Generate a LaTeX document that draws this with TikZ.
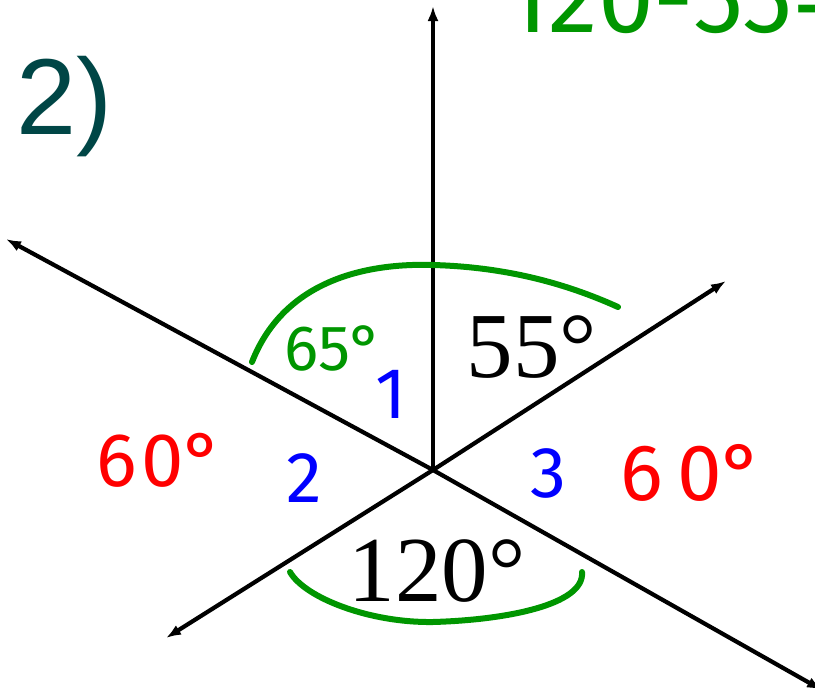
\documentclass[tikz,border=0pt]{standalone}
\usepackage{fontspec}
\setmainfont{Liberation Serif}
\newfontfamily\labelsans{Liberation Sans}
\newfontfamily\handfont{Fira Sans}
\usetikzlibrary{arrows.meta}
\definecolor{penGreen}{RGB}{0,150,0}
\definecolor{penRed}{RGB}{255,0,0}
\definecolor{penBlue}{RGB}{0,0,255}
\definecolor{teal2}{RGB}{0,70,70}
\tikzset{
  ray/.style={line width=4.2pt,-{Latex[length=15pt,width=11pt]}},
  greenarc/.style={penGreen,line width=6pt,line cap=round},
  typed/.style={inner sep=0pt,font=\fontsize{93}{93}\selectfont},
  hand/.style={inner sep=0pt,font=\handfont\fontsize{72}{72}\selectfont},
}
\begin{document}
\begin{tikzpicture}[x=1pt,y=-1pt]
\useasboundingbox (0,0) rectangle (815,688);
\clip (0,0) rectangle (815,688);
% rays
\coordinate (O) at (433,470);
\coordinate (up) at (433,6);
\coordinate (ul) at (6,239);
\coordinate (ur) at (726,281);
\coordinate (ll) at (166,638);
\coordinate (lr) at (822,690);
\draw[ray] (O) -- (up);
\draw[ray] (O) -- (ul);
\draw[ray] (O) -- (ur);
\draw[ray] (O) -- (ll);
\draw[ray] (O) -- (lr);
% green arcs
\coordinate (a1) at (252,362);
\coordinate (a2) at (433,265);
\coordinate (a3) at (618,307);
\draw[greenarc] (a1) .. controls (285,278) and (370,263) .. (a2)
  .. controls (505,267) and (565,283) .. (a3);
\coordinate (b1) at (290,572);
\coordinate (b2) at (433,622);
\coordinate (b3) at (582,572);
\draw[greenarc] (b1) .. controls (305,598) and (370,623) .. (b2)
  .. controls (505,620) and (585,605) .. (b3);
% typed labels
\node[teal2,inner sep=0pt,font=\labelsans\fontsize{108}{108}\selectfont,anchor=base west] (title) at (16,134) {2)};
\node[typed,anchor=base] (t55) at (532,377) {55°};
\node[typed,anchor=base] (t120) at (437,601) {120°};
% handwritten labels
\node[hand,penGreen,anchor=base,font=\handfont\fontsize{64}{64}\selectfont] (t65) at (334,370) {65°};
\node[hand,penBlue,anchor=base] (n1) at (391,418) {1};
\node[hand,penBlue,anchor=base] (n2) at (304,502) {2};
\node[hand,penBlue,anchor=base] (n3) at (548,497) {3};
\node[hand,penRed,anchor=base,font=\handfont\fontsize{76}{76}\selectfont] (l60) at (160,486) {6\hspace{4pt}0°};
\node[hand,penRed,anchor=base,font=\handfont\fontsize{80}{80}\selectfont] (r60) at (692,500) {6\hspace{14pt}0°};
\node[hand,penGreen,anchor=base west,font=\handfont\fontsize{100}{100}\selectfont] (calc) at (505,32) {120-55=};
\end{tikzpicture}
\end{document}
